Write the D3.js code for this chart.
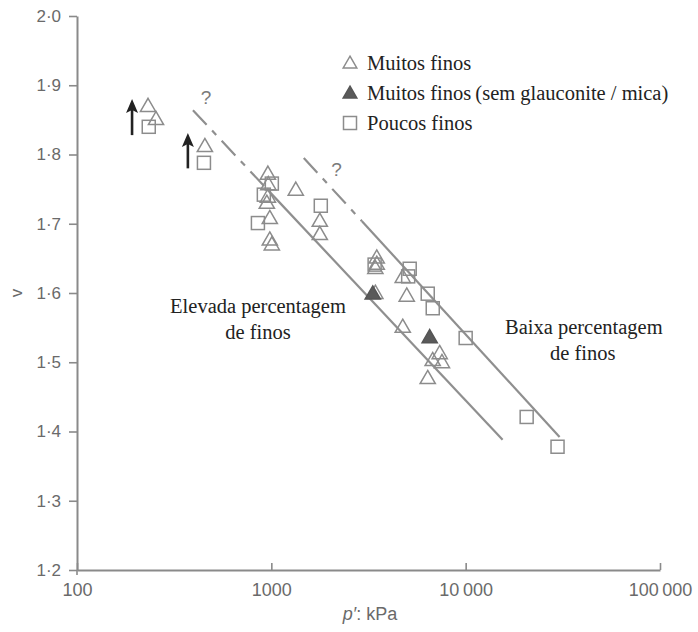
<!DOCTYPE html>
<html>
<head>
<meta charset="utf-8">
<script src="https://cdn.jsdelivr.net/npm/d3@7/dist/d3.min.js"></script>
<style>
  html, body { margin: 0; padding: 0; background: #fff; }
  svg { display: block; }
</style>
</head>
<body>
<svg id="chart" width="698" height="632"></svg>
<script>
// ---- data (p' in kPa, v) ----
const muitosFinos = [
  [232, 1.870], [255, 1.851], [455, 1.812],
  [960, 1.772], [965, 1.757], [960, 1.739], [948, 1.730], [982, 1.708],
  [982, 1.677], [1006, 1.670], [1336, 1.749],
  [1776, 1.704], [1776, 1.685],
  [3487, 1.651], [3487, 1.642], [3430, 1.636], [3430, 1.600],
  [4745, 1.623], [4975, 1.596], [4745, 1.551],
  [7350, 1.513], [6765, 1.503], [7550, 1.500], [6380, 1.477]
];
const muitosFinosSemGlauconite = [
  [3326, 1.599], [6530, 1.536]
];
const poucosFinos = [
  [234, 1.840], [450, 1.788],
  [1006, 1.758], [915, 1.742], [853, 1.701],
  [1797, 1.726], [3400, 1.641],
  [5153, 1.635], [5060, 1.624], [6380, 1.599], [6770, 1.578],
  [10000, 1.535], [20600, 1.421], [29700, 1.378]
];
// arrows: [p, v from, v to]
const arrows = [[192, 1.828, 1.880], [372, 1.780, 1.831]];
// trend lines
const elevadaDashed = [[395, 1.864], [950, 1.750]];
const elevadaSolid  = [[950, 1.750], [15490, 1.388]];
const baixaDashed   = [[1469, 1.795], [2919, 1.704]];
const baixaSolid    = [[2919, 1.704], [30430, 1.392]];
const questionMarks = [[461, 1.883], [2168, 1.778]];

const xTicks = [100, 1000, 10000, 100000];
const xTickLabels = ["100", "1000", "10\u2009000", "100\u2009000"];
const yTicks = [1.2, 1.3, 1.4, 1.5, 1.6, 1.7, 1.8, 1.9, 2.0];

const legendItems = [
  {label: "Muitos finos", type: "tri"},
  {label: "Muitos finos\u2009(sem glauconite / mica)", type: "trifill"},
  {label: "Poucos finos", type: "sq"}
];

// ---- drawing ----
const svg = d3.select("#chart");
const x = d3.scaleLog().domain([100, 100000]).range([77, 660]);
const y = d3.scaleLinear().domain([1.2, 2.0]).range([570, 16]);

const axisColor = "#8a8a8a";
const markColor = "#8c8c8c";
const sans = "'Liberation Sans', Arial, sans-serif";
const serif = "'Liberation Serif', 'Times New Roman', serif";

// x axis
const xAxis = svg.append("g")
  .attr("transform", `translate(0,${y(1.2)})`)
  .call(d3.axisBottom(x).tickValues(xTicks)
    .tickFormat((d, i) => xTickLabels[i])
    .tickSizeInner(-7).tickSizeOuter(0).tickPadding(13));
// y axis
const yAxis = svg.append("g")
  .attr("transform", `translate(${x(100)},0)`)
  .call(d3.axisLeft(y).tickValues(yTicks)
    .tickFormat(d => d3.format(".1f")(d).replace(".", "\u00b7"))
    .tickSizeInner(8).tickSizeOuter(0).tickPadding(8));

[xAxis, yAxis].forEach(g => {
  g.selectAll("path.domain").attr("stroke", axisColor).attr("stroke-width", 2);
  g.selectAll(".tick line").attr("stroke", axisColor).attr("stroke-width", 1.6);
  g.selectAll(".tick text")
    .attr("fill", "#6a6a6a")
    .attr("font-family", sans);
});
xAxis.selectAll(".tick text").attr("font-size", 18);
yAxis.selectAll(".tick text").attr("font-size", 17);
svg.append("line")
  .attr("x1", x(100)).attr("x2", x(100))
  .attr("y1", y(1.2)).attr("y2", y(1.2) + 5)
  .attr("stroke", axisColor).attr("stroke-width", 1.6);

// axis titles
const xt = svg.append("text")
  .attr("x", 370).attr("y", 620)
  .attr("text-anchor", "middle")
  .attr("fill", "#6a6a6a")
  .attr("font-family", sans)
  .attr("font-size", 18);
xt.append("tspan").attr("font-style", "italic").text("p\u2032");
xt.append("tspan").text(": kPa");

svg.append("text")
  .attr("transform", `translate(20,${y(1.6)}) rotate(-90)`)
  .attr("text-anchor", "middle")
  .attr("dy", "0.1em")
  .attr("fill", "#6a6a6a")
  .attr("font-family", sans)
  .attr("font-size", 17)
  .text("v");

// trend lines
const line = d3.line().x(d => x(d[0])).y(d => y(d[1]));
[[elevadaDashed, true], [elevadaSolid, false], [baixaDashed, true], [baixaSolid, false]]
  .forEach(([pts, dashed]) => {
    svg.append("path")
      .attr("d", line(pts))
      .attr("fill", "none")
      .attr("stroke", "#8f8f8f")
      .attr("stroke-width", 2.2)
      .attr("stroke-dasharray", dashed ? "20,8,6,8" : null);
  });

// question marks
svg.selectAll("text.q").data(questionMarks).join("text")
  .attr("class", "q")
  .attr("x", d => x(d[0])).attr("y", d => y(d[1]))
  .attr("text-anchor", "middle").attr("dy", "0.35em")
  .attr("fill", "#7a7a7a")
  .attr("font-family", sans)
  .attr("font-size", 19)
  .text("?");

// arrows
const ag = svg.append("g");
arrows.forEach(a => {
  const ax = x(a[0]), y0 = y(a[1]), y1 = y(a[2]);
  ag.append("line")
    .attr("x1", ax).attr("x2", ax).attr("y1", y0).attr("y2", y1 + 8)
    .attr("stroke", "#222").attr("stroke-width", 2.6);
  ag.append("path")
    .attr("d", `M${ax},${y1} L${ax + 6},${y1 + 14} L${ax},${y1 + 11} L${ax - 6},${y1 + 14} Z`)
    .attr("fill", "#222");
});

// markers
const triPath = d3.symbol().type(d3.symbolTriangle).size(100)();
const sqSide = 13;
function drawTri(sel, fill) {
  sel.append("path").attr("d", triPath)
    .attr("fill", fill ? "#5a5a5a" : "none")
    .attr("stroke", fill ? "#555" : markColor)
    .attr("stroke-width", 1.5);
}
function drawSq(sel) {
  sel.append("rect")
    .attr("x", -sqSide / 2).attr("y", -sqSide / 2)
    .attr("width", sqSide).attr("height", sqSide)
    .attr("fill", "none").attr("stroke", markColor).attr("stroke-width", 1.5);
}

svg.append("g").selectAll("g").data(poucosFinos).join("g")
  .attr("transform", d => `translate(${x(d[0])},${y(d[1])})`)
  .each(function() { drawSq(d3.select(this)); });
svg.append("g").selectAll("g").data(muitosFinos).join("g")
  .attr("transform", d => `translate(${x(d[0])},${y(d[1]) + 1})`)
  .each(function() { drawTri(d3.select(this), false); });
svg.append("g").selectAll("g").data(muitosFinosSemGlauconite).join("g")
  .attr("transform", d => `translate(${x(d[0])},${y(d[1]) + 1})`)
  .each(function() { drawTri(d3.select(this), true); });

// legend
const lg = svg.append("g");
legendItems.forEach((it, i) => {
  const yy = 63 + i * 30;
  const g = lg.append("g").attr("transform", `translate(350,${yy})`);
  if (it.type === "sq") {
    g.append("rect").attr("x", -6.5).attr("y", -6.5).attr("width", 13).attr("height", 13)
      .attr("fill", "none").attr("stroke", markColor).attr("stroke-width", 1.5);
  } else {
    g.append("path").attr("d", d3.symbol().type(d3.symbolTriangle).size(80)())
      .attr("transform", "translate(0,1)")
      .attr("fill", it.type === "trifill" ? "#5a5a5a" : "none")
      .attr("stroke", it.type === "trifill" ? "#555" : markColor)
      .attr("stroke-width", 1.5);
  }
  lg.append("text").attr("x", 367).attr("y", yy).attr("dy", "0.35em")
    .attr("fill", "#222").attr("font-family", serif).attr("font-size", 20.5)
    .text(it.label);
});

// annotations
function annot(y0, lines, anchor) {
  const t = svg.append("text").attr("text-anchor", anchor)
    .attr("fill", "#222").attr("font-family", serif).attr("font-size", 20.5);
  lines.forEach((l, i) => t.append("tspan")
    .attr("x", l[1]).attr("y", y0 + i * 26).attr("dy", "0.35em").text(l[0]));
}
annot(306, [["Elevada percentagem", 258], ["de finos", 258]], "middle");
annot(327, [["Baixa percentagem", 505], ["de finos", 550]], "start");
</script>
</body>
</html>
